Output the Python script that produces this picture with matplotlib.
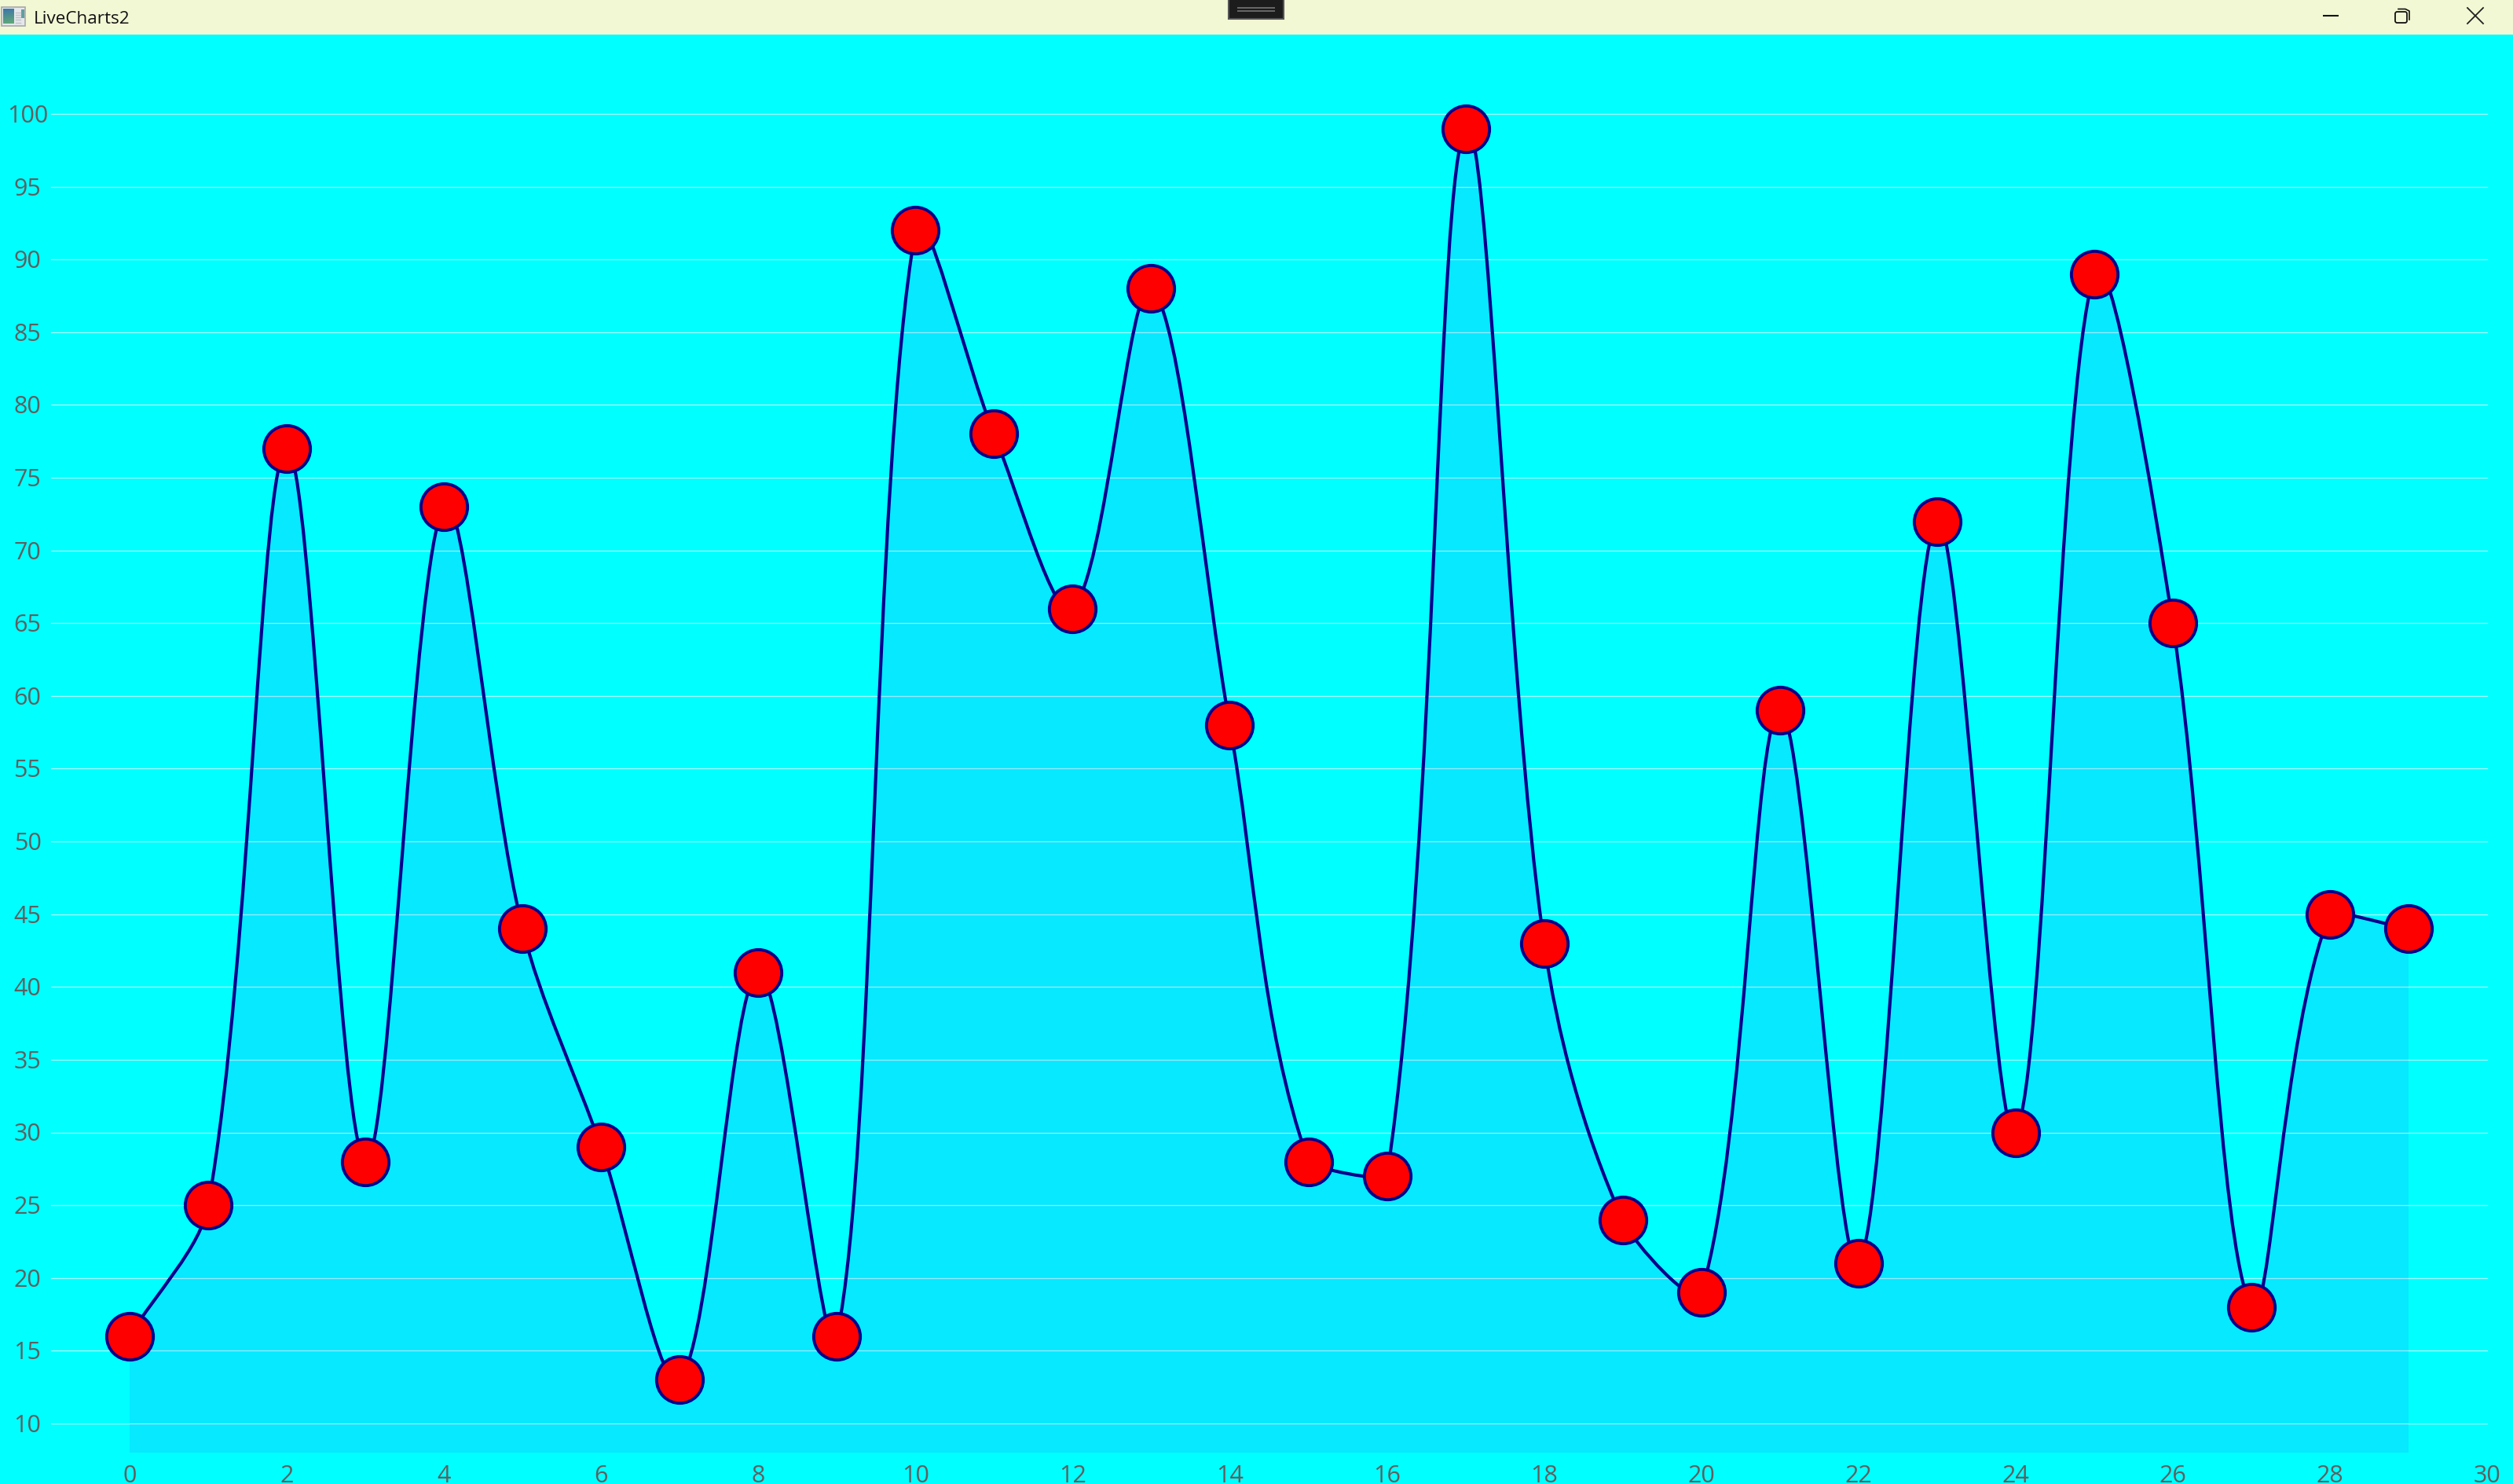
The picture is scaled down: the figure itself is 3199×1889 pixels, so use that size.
import numpy as np
import matplotlib
matplotlib.use("Agg")
import matplotlib.pyplot as plt
from matplotlib.path import Path
from matplotlib.patches import PathPatch, Rectangle, FancyBboxPatch
from matplotlib.lines import Line2D

plt.rcParams['font.family'] = ['Open Sans', 'DejaVu Sans']

values = [16, 25, 77, 28, 73, 44, 29, 13, 41, 16, 92, 78, 66, 88, 58, 28, 27, 99,
          43, 24, 19, 59, 21, 72, 30, 89, 65, 18, 45, 44]
x_ticks = list(range(0, 31, 2))
y_ticks = list(range(10, 101, 5))
window_title = "LiveCharts2"
smoothness = 0.65

W, H = 3199, 1890
BG = '#00FFFF'
LINE = '#00008B'
TICK = '#5F5F5F'

fig = plt.figure(figsize=(W / 100, H / 100), dpi=100, facecolor=BG)
L, R, T, B = 65, 3166, 146, 1850
ax = fig.add_axes([L / W, 1 - B / H, (R - L) / W, (B - T) / H], facecolor='none')
ax.set_xlim(-1, 30)
ax.set_ylim(8, 100)
for s in ax.spines.values():
    s.set_visible(False)
ax.set_xticks(x_ticks)
ax.set_yticks(y_ticks)
ax.tick_params(length=0, labelbottom=False, labelleft=False)
ax.grid(False)

xs = np.arange(len(values), dtype=float)
ys = np.array(values, dtype=float)

for v in y_ticks:
    ax.axhline(v, color='#FFFFFF', alpha=0.65, lw=0.95, zorder=1, clip_on=False)


def bezier_segments(x, y, k):
    n = len(x)
    verts = [(x[0], y[0])]
    codes = [Path.MOVETO]
    for i in range(n - 1):
        a, b, c, d = max(i - 1, 0), i, i + 1, min(i + 2, n - 1)
        x0, y0, x1, y1, x2, y2, x3, y3 = x[a], y[a], x[b], y[b], x[c], y[c], x[d], y[d]
        xc1, yc1 = (x0 + x1) / 2, (y0 + y1) / 2
        xc2, yc2 = (x1 + x2) / 2, (y1 + y2) / 2
        xc3, yc3 = (x2 + x3) / 2, (y2 + y3) / 2
        l1 = np.hypot(x1 - x0, y1 - y0)
        l2 = np.hypot(x2 - x1, y2 - y1)
        l3 = np.hypot(x3 - x2, y3 - y2)
        k1 = l1 / (l1 + l2)
        k2 = l2 / (l2 + l3)
        xm1, ym1 = xc1 + (xc2 - xc1) * k1, yc1 + (yc2 - yc1) * k1
        xm2, ym2 = xc2 + (xc3 - xc2) * k2, yc2 + (yc3 - yc2) * k2
        c1 = (xm1 + (xc2 - xm1) * k + x1 - xm1, ym1 + (yc2 - ym1) * k + y1 - ym1)
        c2 = (xm2 + (xc2 - xm2) * k + x2 - xm2, ym2 + (yc2 - ym2) * k + y2 - ym2)
        verts += [c1, c2, (x2, y2)]
        codes += [Path.CURVE4] * 3
    return verts, codes


verts, codes = bezier_segments(xs, ys, smoothness)
base = ax.get_ylim()[0]
fill_verts = verts + [(xs[-1], base), (xs[0], base), verts[0]]
fill_codes = codes + [Path.LINETO, Path.LINETO, Path.CLOSEPOLY]
ax.add_patch(PathPatch(Path(fill_verts, fill_codes), facecolor='#3C2DFF', alpha=0.10,
                       edgecolor='none', zorder=2))
ax.add_patch(PathPatch(Path(verts, codes), facecolor='none', edgecolor=LINE, lw=3.0,
                       zorder=3, capstyle='round'))
ax.plot(xs, ys, ls='none', marker='o', ms=42.7, mfc='#FF0000', mec=LINE, mew=2.8,
        zorder=4, clip_on=False)

# tick labels
for v in x_ticks:
    ax.annotate(str(v), xy=(v, base), xytext=(0, -(1879 - B) * 0.72), textcoords='offset points',
                ha='center', va='center', fontsize=22, color=TICK, annotation_clip=False)
for v in y_ticks:
    ax.annotate(str(v), xy=(-1, v), xytext=(-(L - 35) * 0.72, -1.4), textcoords='offset points',
                ha='center', va='center', fontsize=22, color=TICK, annotation_clip=False)

# window chrome, in pixel coordinates
chrome = fig.add_axes([0, 0, 1, 1], facecolor='none', zorder=10)
chrome.set_xlim(0, W)
chrome.set_ylim(H, 0)
chrome.axis('off')
chrome.add_patch(Rectangle((0, 0), W, 45, facecolor='#F3F8D4', edgecolor='none'))
chrome.text(43, 24, window_title, fontsize=16.2, color='#111111', ha='left', va='center')

# app icon
chrome.add_patch(Rectangle((2.5, 9.5), 30, 24, facecolor='#E4E8EC', edgecolor='#A8A8A8', lw=1.2))
chrome.imshow(np.linspace(0, 1, 64).reshape(8, 8), extent=(4, 18, 31, 12), aspect='auto',
              cmap=matplotlib.colors.LinearSegmentedColormap.from_list('i', ['#3E78A8', '#5FA878']),
              zorder=3)
chrome.set_xlim(0, W)
chrome.set_ylim(H, 0)
chrome.add_patch(Rectangle((27, 13), 4, 11, facecolor='#5F9F9F', edgecolor='none', zorder=3))
for yy in (17, 20, 23, 26, 30):
    chrome.add_line(Line2D([20, 26], [yy, yy], color='#C0C4C8', lw=1.0, zorder=3))

# snap handle
chrome.add_patch(Rectangle((1564, -2), 70, 27, facecolor='#1C1C1C', edgecolor='#555555', lw=1.5))
for yy in (11, 15):
    chrome.add_line(Line2D([1575, 1623], [yy, yy], color='#6E6E6E', lw=1.3, solid_capstyle='butt'))

# window buttons
chrome.add_line(Line2D([2957, 2977], [21, 21], color='#111111', lw=1.5, solid_capstyle='butt'))
chrome.add_patch(FancyBboxPatch((3049, 16), 15, 14, boxstyle='round,pad=0,rounding_size=2.5',
                                facecolor='none', edgecolor='#111111', lw=1.3))
chrome.add_line(Line2D([3053, 3062, 3067, 3067], [12.5, 12.5, 15, 26], color='#111111', lw=1.2))
chrome.add_line(Line2D([3141, 3161], [11, 31], color='#222222', lw=1.3))
chrome.add_line(Line2D([3141, 3161], [31, 11], color='#222222', lw=1.3))

fig.savefig('out.png', dpi=100, facecolor=BG)
